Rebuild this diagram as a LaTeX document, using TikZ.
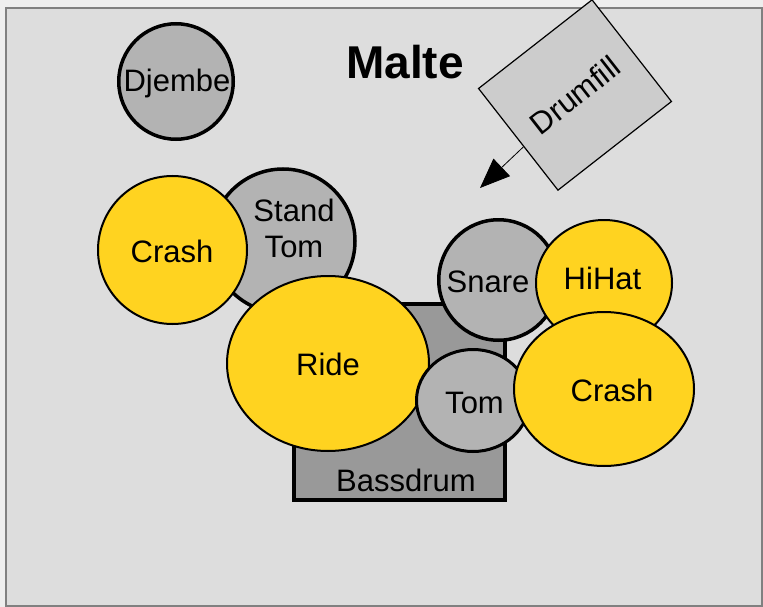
\documentclass[tikz,border=0pt]{standalone}
\usepackage{fontspec}
\setmainfont{Liberation Sans}
\usetikzlibrary{positioning,shapes.geometric,arrows.meta,calc}
\definecolor{pagebg}{HTML}{EEEEEE}
\definecolor{panel}{HTML}{DDDDDD}
\definecolor{framegray}{HTML}{808080}
\definecolor{drumgray}{HTML}{B3B3B3}
\definecolor{kickgray}{HTML}{999999}
\definecolor{fillgray}{HTML}{CCCCCC}
\definecolor{cymbalyellow}{HTML}{FFD320}
\tikzset{drum/.style={ellipse,draw,line width=3.5pt,fill=drumgray,inner sep=0pt}}
\tikzset{cymbal/.style={ellipse,draw,line width=2pt,fill=cymbalyellow,inner sep=0pt}}
\tikzset{lbl/.style={anchor=base,inner sep=0pt,font=\fontsize{31}{36}\selectfont}}

\begin{document}
\begin{tikzpicture}[x=1pt,y=-1pt]

	%% Page and panel
	\useasboundingbox (0,0) rectangle (763,607);
	\fill[pagebg] (0,0) rectangle (763,607);
	\draw[draw=framegray,line width=2.5pt,fill=panel] (6,8) rectangle (762,606);
	\node[anchor=base,inner sep=0pt,font=\bfseries\fontsize{46}{50}\selectfont] (title) at (405,79) {Malte};

	%% Djembe and drumfill
	\node[drum,minimum width=114.5pt,minimum height=115.5pt] (djembe) at (176,81.5) {};
	\node[lbl] at (177,92) {Djembe};
	\node[draw,line width=1.2pt,fill=fillgray,rotate=38,minimum width=144pt,minimum height=129pt,inner sep=0pt,font=\fontsize{31}{36}\selectfont] (drumfill) at (575,95) {Drumfill};
	\coordinate (fillend) at (480,188);
	\draw[line width=0.8pt,-{Triangle[length=30pt,width=24pt]}] ($(drumfill.north west)!0.57!(drumfill.south west)$) -- (fillend);

	%% Left side
	\node[drum,minimum width=144pt,minimum height=144pt] (standtom) at (283,241) {};
	\node[lbl,anchor=center,align=center] at (294,228) {Stand\\Tom};
	\node[cymbal,minimum width=149pt,minimum height=148pt] (crashleft) at (172.5,250) {};
	\node[lbl] at (172,262) {Crash};

	%% Bassdrum with ride and toms on top
	\node[draw,line width=4pt,fill=kickgray,minimum width=211pt,minimum height=196pt,inner sep=0pt] (bassdrum) at (399.5,402) {};
	\node[lbl] at (406,491) {Bassdrum};
	\node[cymbal,minimum width=202pt,minimum height=175pt] (ride) at (328,363.5) {};
	\node[lbl] at (328,375) {Ride};
	\node[drum,minimum width=119.5pt,minimum height=120.5pt] (snare) at (498.5,280) {};
	\node[lbl] at (488,292) {Snare};
	\node[drum,line width=3pt,minimum width=113pt,minimum height=102pt] (tom) at (473,400.5) {};
	\node[lbl] at (474.5,413) {Tom};

	%% Right side
	\node[cymbal,minimum width=136pt,minimum height=126pt] (hihat) at (604,283) {};
	\node[lbl] at (602.5,289) {HiHat};
	\node[cymbal,minimum width=180pt,minimum height=154pt] (crashright) at (604,389) {};
	\node[lbl] at (612,401) {Crash};

\end{tikzpicture}
\end{document}
